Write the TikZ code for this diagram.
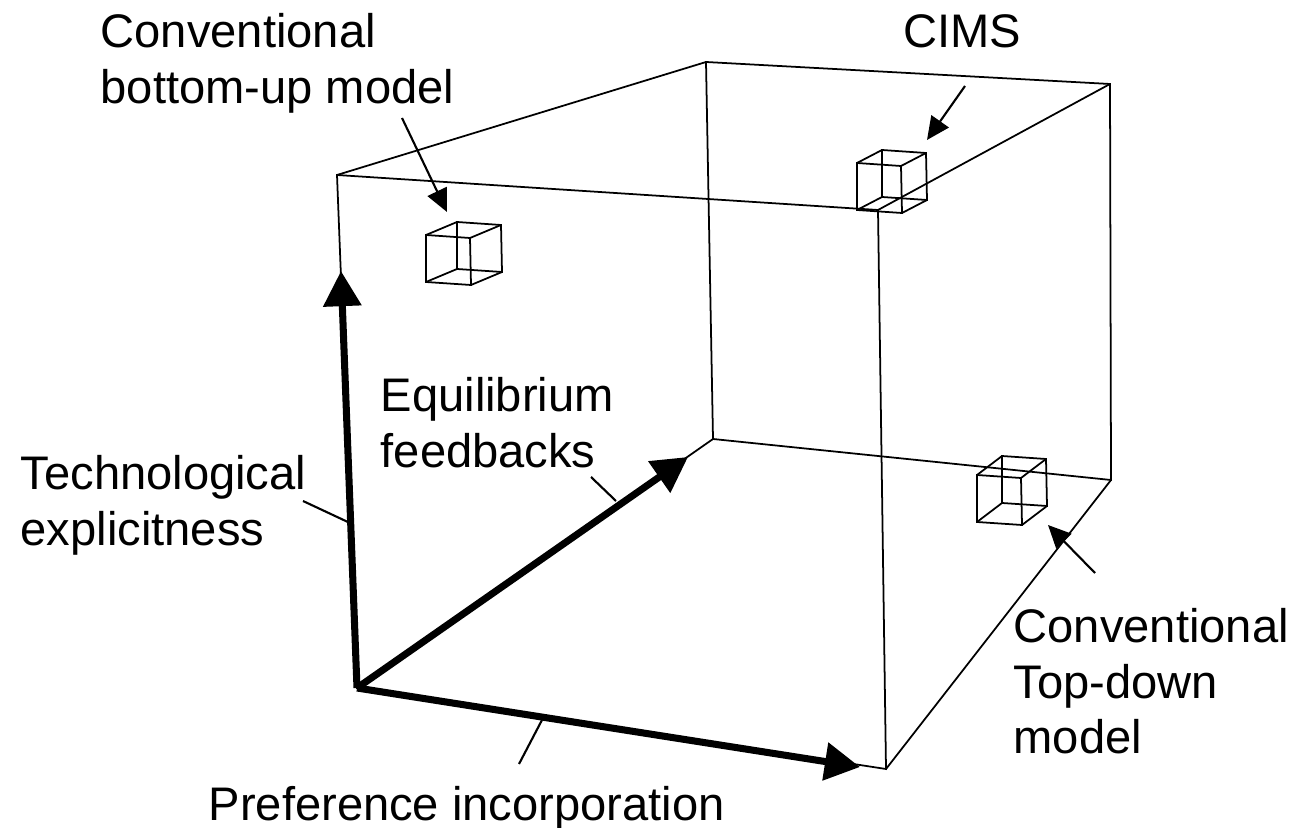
\documentclass[tikz,border=0pt]{standalone}
\usepackage{fontspec}
\setmainfont{Liberation Sans}
\usetikzlibrary{arrows.meta}
\tikzset{
  edge/.style={line width=0.5pt},
  axis/.style={line width=2pt, -{Triangle[length=10pt,width=10.5pt]}},
  leader/.style={line width=0.6pt, -{Triangle[length=6.5pt,width=6pt]}},
  tick/.style={line width=0.6pt},
  lbl/.style={inner sep=0pt, align=left, font=\fontsize{13.4}{15.8}\selectfont}
}
% small cube: front top-left corner, offset of the back face
\newcommand{\minicube}[3]{%
  \begin{scope}[shift={(#1)}]
    \draw[edge] (0,0) -- (44,3) -- (45,50) -- (0,47) -- cycle;
    \draw[edge] (#2,#3) -- ++(44,3) -- ++(1,47) -- ++(-45,-3) -- cycle;
    \draw[edge] (0,0) -- ++(#2,#3) (44,3) -- ++(#2,#3)
      (45,50) -- ++(#2,#3) (0,47) -- ++(#2,#3);
  \end{scope}}

\begin{document}
\begin{tikzpicture}[x=0.01cm, y=-0.01cm]
  \useasboundingbox (0,0) rectangle (1297,828);

  % corners of the big box
  \coordinate (FTL) at (337,175);
  \coordinate (FTR) at (878,210);
  \coordinate (FBL) at (357,688);
  \coordinate (FBR) at (886,769);
  \coordinate (BTL) at (706,62);
  \coordinate (BTR) at (1110,84);
  \coordinate (BBL) at (713,439);
  \coordinate (BBR) at (1111,480);

  \draw[edge] (FTL) -- (FTR) -- (FBR) -- (FBL) -- cycle;
  \draw[edge] (BTL) -- (BTR) -- (BBR) -- (BBL) -- cycle;
  \draw[edge] (FTL) -- (BTL) (FTR) -- (BTR) (FBR) -- (BBR) (FBL) -- (BBL);

  % small cubes
  \minicube{426,235}{31}{-13}
  \minicube{857,163}{25}{-13}
  \minicube{977,475}{25}{-19}

  % axes
  \coordinate (techtip) at (341,271);
  \coordinate (eqtip) at (688,457);
  \coordinate (preftip) at (860,767);
  \draw[axis] (FBL) -- (techtip);
  \draw[axis] (FBL) -- (eqtip);
  \draw[axis] (FBL) -- (preftip);

  % labels
  \node[lbl, anchor=north west] (bottomup) at (100,13) {Conventional\\bottom-up model};
  \node[lbl, anchor=base] (cims) at (962,48) {CIMS};
  \node[lbl, anchor=north west] (equil) at (380,377) {Equilibrium\\feedbacks};
  \node[lbl, anchor=north west] (techn) at (20,455) {Technological\\explicitness};
  \node[lbl, anchor=north west] (topdown) at (1013,608) {Conventional\\Top-down\\model};
  \node[lbl, anchor=base west] (pref) at (208,820) {Preference incorporation};

  % leaders
  \coordinate (bu1) at (402,118);
  \coordinate (bu2) at (447,212);
  \coordinate (ci1) at (965,86);
  \coordinate (ci2) at (927,140);
  \coordinate (td1) at (1095,573);
  \coordinate (td2) at (1048,525);
  \draw[leader] (bu1) -- (bu2);
  \draw[leader] (ci1) -- (ci2);
  \draw[leader] (td1) -- (td2);

  \coordinate (eq1) at (591,477);
  \coordinate (eq2) at (616,501);
  \coordinate (te1) at (303,501);
  \coordinate (te2) at (350,523);
  \coordinate (pr1) at (519,764);
  \coordinate (pr2) at (542,720);
  \draw[tick] (eq1) -- (eq2);
  \draw[tick] (te1) -- (te2);
  \draw[tick] (pr1) -- (pr2);
\end{tikzpicture}
\end{document}
